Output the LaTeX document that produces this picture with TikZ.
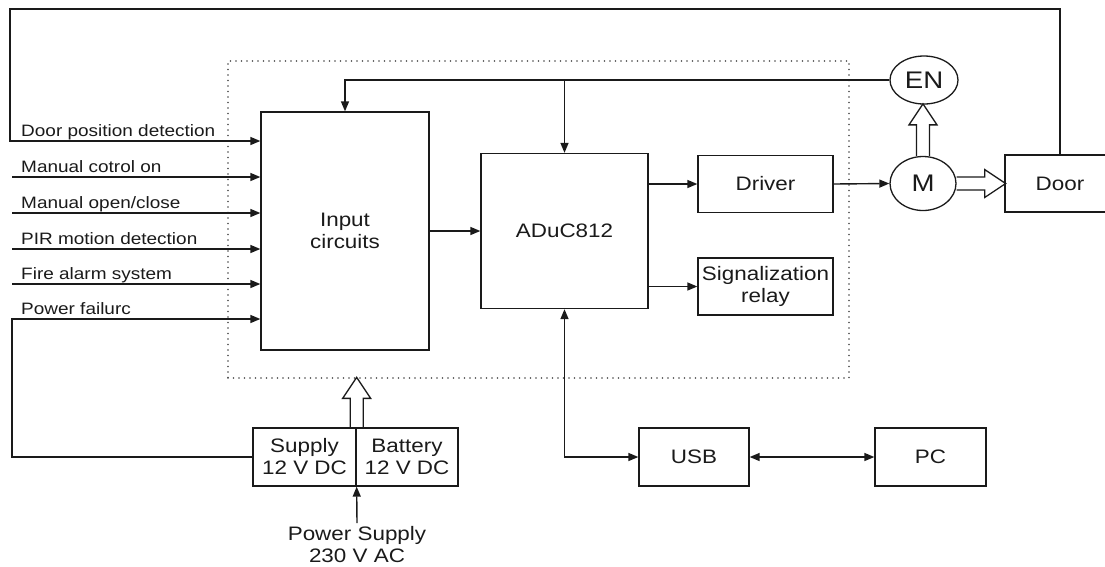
\documentclass[tikz,border=0pt]{standalone}
\usepackage{fontspec}
\setmainfont[FakeStretch=1.15]{Liberation Sans}
\usetikzlibrary{positioning,arrows.meta,shapes.geometric}
\definecolor{ink}{HTML}{1A1A1A}
\tikzset{
  blk/.style={draw=ink,line width=1.3pt,inner sep=1pt,align=center,text=ink,font=\fontsize{19.5}{22}\selectfont},
  rnd/.style={draw=ink,line width=1.3pt,ellipse,inner sep=0pt,text=ink,font=\fontsize{24}{26}\selectfont},
  lbl/.style={anchor=base west,inner sep=0pt,text=ink,font=\fontsize{16.5}{19}\selectfont},
  sig/.style={draw=ink,line width=1.4pt,-{Triangle[length=10pt,width=8pt]}},
  sigb/.style={sig,{Triangle[length=10pt,width=8pt]}-{Triangle[length=10pt,width=8pt]}},
  pics/fatarrow/.style={code={
    \draw[ink,line width=1.3pt,line join=miter] (0,-6.5) -- (#1-21,-6.5) -- (#1-21,-14) -- (#1,0)
      -- (#1-21,14) -- (#1-21,6.5) -- (0,6.5);
  }}
}
\begin{document}
\begin{tikzpicture}[x=1pt,y=-1pt]
\useasboundingbox (0,0) rectangle (1105,566);
% ---- control board (dotted) ----
\node[draw=ink!80,line width=1.7pt,dash pattern=on 0pt off 5.5pt,line cap=round,
  minimum width=621pt,minimum height=317pt] (board) at (538.5,219.5) {};
% ---- blocks ----
\node[blk,minimum width=168pt,minimum height=238pt] (inp) at (345,231) {Input\\circuits};
\node[blk,minimum width=167pt,minimum height=155pt] (adu) at (564.5,231) {ADuC812};
\node[blk,minimum width=135pt,minimum height=57pt] (drv) at (765.5,184) {Driver};
\node[blk,minimum width=135pt,minimum height=57pt] (sig) at (765.5,286.5) {Signalization\\relay};
\node[rnd,minimum width=68pt,minimum height=48pt] (enc) at (924,80) {EN};
\node[rnd,minimum width=66pt,minimum height=54pt] (mot) at (923,183.5) {M};
\node[blk,minimum width=110pt,minimum height=57pt] (door) at (1060,183.5) {Door};
\node[blk,minimum width=103pt,minimum height=58pt] (sup) at (304.5,457) {Supply\\12 V DC};
\node[blk,minimum width=102pt,minimum height=58pt] (bat) at (407,457) {Battery\\12 V DC};
\node[blk,minimum width=110pt,minimum height=58pt] (usb) at (694,457) {USB};
\node[blk,minimum width=111pt,minimum height=58pt] (pc) at (930.5,457) {PC};
\node[blk,draw=none,anchor=north,inner sep=3pt] (pwr) at (357,523) {Power Supply\\230 V AC};
% ---- input signals ----
\foreach \yy/\txt [count=\i] in {141/Door position detection,177/Manual cotrol on,
    213/{Manual open/close},249/PIR motion detection,284/Fire alarm system,319/Power failurc} {
  \node[lbl] (lab\i) at (21,\yy-5) {\txt};
  \coordinate (in\i) at (12,\yy);
}
\foreach \i in {2,...,5} \draw[sig] (in\i) -- (in\i -| inp.west);
\coordinate (top) at (10,9);
\draw[sig] (door.north) |- (top) |- (in1 -| inp.west);
\draw[sig] (sup.west) -| (in6) -- (in6 -| inp.west);
% ---- internal connections ----
\draw[sig] (inp.east) -- (adu.west);
\draw[sig] (adu.east |- drv) -- (drv.west);
\draw[sig] (adu.east |- sig) -- (sig.west);
\draw[sig] (drv.east) -- (mot.west);
\draw[sig] (enc.west) -| (inp.north);
\draw[sig] (enc.west -| adu.north) -- (adu.north);
\draw[sigb] (adu.south) |- (usb.west);
\draw[sigb] (usb.east) -- (pc.west);
\draw[sig] (pwr.north) -- (sup.south east);
% ---- mechanical / power flow ----
\pic[rotate=90] at (mot.north) {fatarrow=52};
\pic at (mot.east) {fatarrow=49};
\pic[rotate=90] at (sup.north east) {fatarrow=50};
\end{tikzpicture}
\end{document}
